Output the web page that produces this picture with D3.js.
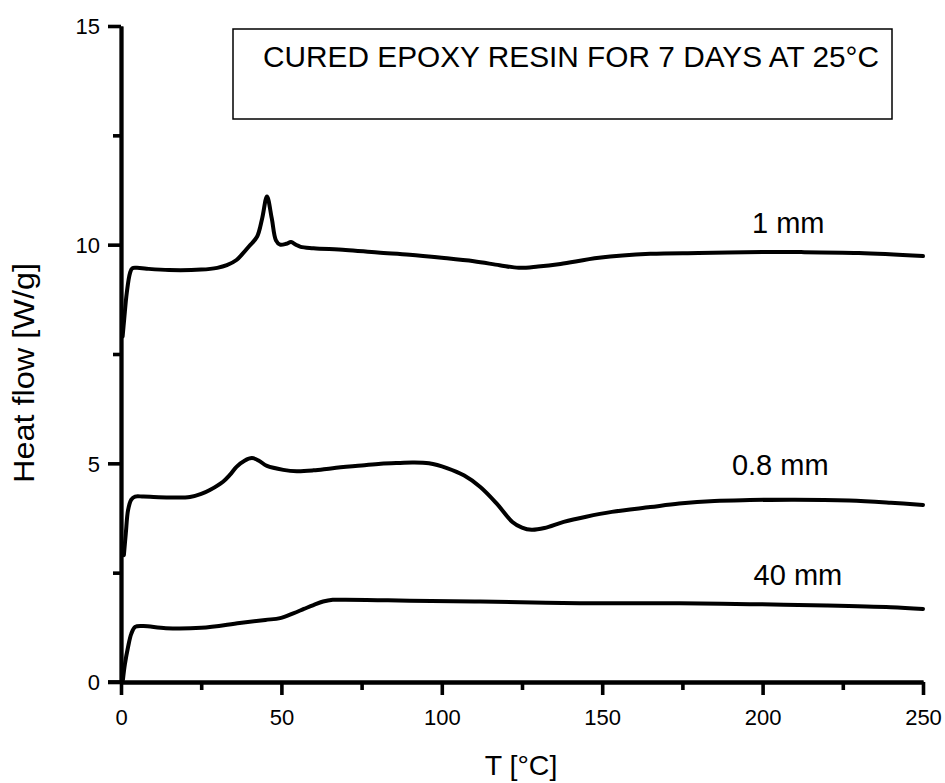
<!DOCTYPE html>
<html><head><meta charset="utf-8">
<script src="https://cdn.jsdelivr.net/npm/d3@7"></script>
<style>body{margin:0;background:#fff;} svg{display:block;} text{font-family:"Liberation Sans",Arial,sans-serif;fill:#000;}</style>
</head><body>
<script>
// Data
const t1 = [0.5,1.0,1.8,2.8,3.5,5,8,15,25,30,33,36,38,40,42.4,44,45.5,47,48.3,49.6,51.5,53,54.5,56,60,70,80,90,100,110,118,124,130,137,149,165,180,200,212,230,250];
const hf1 = [7.9,8.3,8.9,9.35,9.46,9.47,9.45,9.42,9.43,9.47,9.53,9.65,9.8,9.97,10.18,10.6,11.1,10.6,10.1,10.0,10.02,10.06,10.0,9.95,9.92,9.88,9.82,9.77,9.7,9.62,9.53,9.47,9.5,9.56,9.7,9.79,9.81,9.83,9.83,9.81,9.74];
const t08 = [0.9,1.5,2.2,3.2,4.4,7,15,21.5,25,27.7,31.8,34,36,38.5,40.8,43,45.5,50.6,54.8,60,66,75,81,87,91,96,101.6,107,112,117,122,125,128,132,138,145,153,165,174,185,196,210,227,240,250];
const hf08 = [2.9,3.4,3.93,4.17,4.24,4.24,4.22,4.23,4.3,4.39,4.58,4.74,4.92,5.06,5.12,5.06,4.94,4.85,4.82,4.84,4.89,4.95,4.99,5.01,5.02,5.0,4.89,4.72,4.46,4.09,3.66,3.53,3.48,3.52,3.66,3.78,3.89,4.0,4.08,4.14,4.16,4.17,4.15,4.1,4.05];
const t40 = [0.6,1.2,2.2,3.2,4.4,7,14,25,37,45,49.6,53.7,57,60,63,66,70,80,90,112,143,174,196,220,240,250];
const hf40 = [0.05,0.4,0.8,1.1,1.26,1.28,1.23,1.24,1.35,1.42,1.46,1.57,1.67,1.76,1.84,1.88,1.88,1.87,1.86,1.84,1.8,1.8,1.78,1.75,1.71,1.67];
const seriesNames = ["1 mm","0.8 mm","40 mm"];
const labelPos = [[208,10.27],[205.5,4.73],[211,2.22]];
const xTicks = [0,50,100,150,200,250];
const xMinor = [25,75,125,175,225];
const yTicks = [0,5,10,15];
const yMinor = [2.5,7.5,12.5];
const title = "CURED EPOXY RESIN FOR 7 DAYS AT 25°C";

const W=945,H=783;
const svg=d3.select("body").append("svg").attr("width",W).attr("height",H);
const x=d3.scaleLinear().domain([0,250]).range([121,923]);
const y=d3.scaleLinear().domain([0,15]).range([682,26]);

// axes
const gx=svg.append("g").attr("transform","translate(0,682)");
gx.call(d3.axisBottom(x).tickValues(xTicks).tickSize(13).tickPadding(14).tickSizeOuter(0));
gx.append("g").call(d3.axisBottom(x).tickValues(xMinor).tickSize(8).tickFormat("").tickSizeOuter(0));
const gy=svg.append("g").attr("transform","translate(121,0)");
gy.call(d3.axisLeft(y).tickValues(yTicks).tickSize(13).tickPadding(8).tickSizeOuter(0));
gy.append("g").call(d3.axisLeft(y).tickValues(yMinor).tickSize(8).tickFormat("").tickSizeOuter(0));
svg.selectAll(".domain").attr("stroke","#000").attr("stroke-width",3.8);
svg.selectAll(".tick line").attr("stroke","#000").attr("stroke-width",3.6);
svg.selectAll(".tick text").attr("font-size",22).attr("font-family","Liberation Sans, Arial, sans-serif").attr("fill","#000");
gy.selectAll(".tick text").attr("dy","0.35em");
svg.append("line").attr("x1",108).attr("x2",121).attr("y1",682).attr("y2",682).attr("stroke","#000").attr("stroke-width",3.8);

// curves
const line=d3.line().x(d=>x(d[0])).y(d=>y(d[1])).curve(d3.curveCatmullRom.alpha(0.5));
[[t1,hf1],[t08,hf08],[t40,hf40]].forEach(([tt,hh])=>{
  svg.append("path").datum(tt.map((v,i)=>[v,hh[i]])).attr("d",line)
    .attr("fill","none").attr("stroke","#000").attr("stroke-width",4).attr("stroke-linejoin","round").attr("stroke-linecap","round");
});

// series labels
seriesNames.forEach((n,i)=>{
  svg.append("text").attr("x",x(labelPos[i][0])).attr("y",y(labelPos[i][1])).attr("text-anchor","middle").attr("font-size",29).text(n);
});

// title box
svg.append("rect").attr("x",233).attr("y",29).attr("width",659).attr("height",90).attr("fill","none").attr("stroke","#000").attr("stroke-width",1.5);
svg.append("text").attr("x",263).attr("y",67).attr("font-size",30).attr("textLength",616).attr("lengthAdjust","spacingAndGlyphs").text(title);

// axis titles
svg.append("text").attr("x",521).attr("y",775).attr("text-anchor","middle").attr("font-size",28.5).text("T [°C]");
svg.append("text").attr("transform","translate(34,373) rotate(-90)").attr("text-anchor","middle").attr("font-size",29).attr("textLength",220).attr("lengthAdjust","spacingAndGlyphs").text("Heat flow [W/g]");
</script>
</body></html>
